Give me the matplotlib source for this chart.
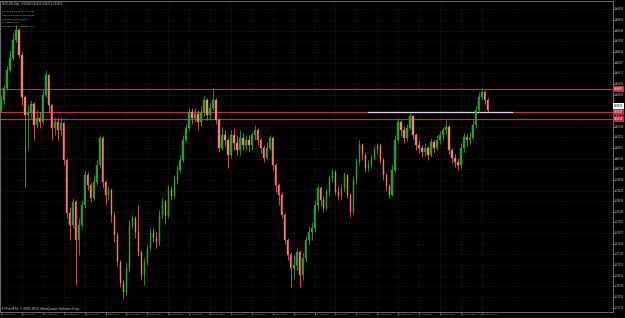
import numpy as np
import matplotlib
matplotlib.use("Agg")
import matplotlib.pyplot as plt
from matplotlib.transforms import blended_transform_factory

# ---------------- data (NZDUSD daily) ----------------
first_open = 0.83650
closes = [
    0.84200, 0.84860, 0.85850, 0.86510, 0.87500, 0.88050, 0.86675, 0.84365, 0.83375, 0.83540,
    0.83980, 0.82825, 0.83210, 0.82990, 0.84475, 0.85575, 0.83925, 0.82660, 0.82990, 0.82550,
    0.82935, 0.80900, 0.77985, 0.77325, 0.78590, 0.76500, 0.77325, 0.78425, 0.80075, 0.79525,
    0.78810, 0.79690, 0.80625, 0.82110, 0.79690, 0.78975, 0.79250, 0.77875, 0.76775, 0.75290,
    0.74135, 0.73640, 0.74960, 0.77325, 0.77710, 0.76940, 0.75840, 0.74575, 0.75290, 0.76060,
    0.76885, 0.76610, 0.76390, 0.77875, 0.78590, 0.77820, 0.79250, 0.78920, 0.79800, 0.80350,
    0.80900, 0.82000, 0.82660, 0.83540, 0.83210, 0.83430, 0.82990, 0.83540, 0.84200, 0.83375,
    0.83760, 0.84200, 0.83100, 0.81560, 0.82275, 0.82000, 0.81175, 0.82275, 0.81835, 0.81450,
    0.82110, 0.81725, 0.82000, 0.81725, 0.82275, 0.82550, 0.82000, 0.81560, 0.81010, 0.81560,
    0.82110, 0.80625, 0.79525, 0.78975, 0.77875, 0.76500, 0.75675, 0.74960, 0.75125, 0.75840,
    0.74575, 0.75510, 0.76500, 0.76940, 0.77160, 0.78425, 0.79360, 0.78700, 0.78260, 0.79140,
    0.79910, 0.80240, 0.79140, 0.78920, 0.79360, 0.80075, 0.78975, 0.78040, 0.79800, 0.80790,
    0.81725, 0.81175, 0.80460, 0.80625, 0.81010, 0.81450, 0.81725, 0.80900, 0.80075, 0.79470,
    0.78975, 0.80350, 0.82000, 0.82990, 0.82550, 0.82110, 0.82660, 0.83320, 0.82275, 0.81725,
    0.81560, 0.81340, 0.81560, 0.81175, 0.81890, 0.81560, 0.82000, 0.82275, 0.82550, 0.82715,
    0.81450, 0.81010, 0.80790, 0.80625, 0.81560, 0.82165, 0.82000, 0.82110, 0.82825, 0.83650,
    0.84365, 0.84640, 0.84200, 0.83650,
]
highs = [
    0.84475, 0.85025, 0.86070, 0.86950, 0.87885, 0.88325, 0.88160, 0.86840, 0.84475, 0.83925,
    0.84200, 0.84090, 0.83650, 0.83540, 0.84750, 0.85850, 0.85630, 0.83980, 0.83265, 0.83210,
    0.83265, 0.82990, 0.81010, 0.78315, 0.78810, 0.78700, 0.77710, 0.78700, 0.80350, 0.80240,
    0.79635, 0.80075, 0.80900, 0.82275, 0.82220, 0.79800, 0.79470, 0.79360, 0.78040, 0.76940,
    0.75400, 0.74300, 0.75290, 0.77600, 0.77875, 0.77820, 0.78425, 0.75950, 0.75510, 0.76225,
    0.77160, 0.77160, 0.76940, 0.78150, 0.78810, 0.78700, 0.79525, 0.79470, 0.80075, 0.80625,
    0.81175, 0.82275, 0.82880, 0.83760, 0.83760, 0.83760, 0.83650, 0.83870, 0.84420, 0.84310,
    0.84090, 0.84860, 0.84310, 0.83210, 0.82715, 0.82550, 0.82110, 0.82550, 0.82660, 0.82275,
    0.82550, 0.82385, 0.82275, 0.82275, 0.82440, 0.82825, 0.82660, 0.82110, 0.81725, 0.81890,
    0.82275, 0.82220, 0.80735, 0.79635, 0.79140, 0.77985, 0.76610, 0.75840, 0.75675, 0.76060,
    0.75950, 0.75785, 0.76720, 0.77270, 0.77490, 0.78700, 0.79525, 0.79470, 0.78920, 0.79360,
    0.80075, 0.80460, 0.80350, 0.79470, 0.79580, 0.80240, 0.80130, 0.79085, 0.80020, 0.81010,
    0.82000, 0.81835, 0.81285, 0.80900, 0.81230, 0.81615, 0.81835, 0.81780, 0.81010, 0.80185,
    0.79580, 0.80625, 0.82275, 0.83210, 0.83100, 0.82770, 0.82880, 0.83485, 0.83375, 0.82385,
    0.82000, 0.81725, 0.81835, 0.81670, 0.82110, 0.82055, 0.82275, 0.82495, 0.82715, 0.83100,
    0.82825, 0.81560, 0.81230, 0.81010, 0.81835, 0.82385, 0.82330, 0.82440, 0.83100, 0.83925,
    0.84640, 0.84860, 0.84750, 0.84310,
]
lows = [
    0.83540, 0.83980, 0.84750, 0.85740, 0.86400, 0.87390, 0.86510, 0.83925, 0.79415, 0.81450,
    0.83210, 0.82000, 0.82660, 0.82660, 0.82880, 0.84365, 0.83540, 0.82000, 0.82275, 0.82000,
    0.82275, 0.80625, 0.77710, 0.76500, 0.77160, 0.74025, 0.75675, 0.77160, 0.78260, 0.79250,
    0.78590, 0.78700, 0.79525, 0.80460, 0.79360, 0.78425, 0.78700, 0.77490, 0.76390, 0.75070,
    0.73915, 0.73310, 0.73475, 0.74740, 0.77160, 0.76610, 0.75620, 0.74300, 0.74025, 0.75125,
    0.75950, 0.76390, 0.76060, 0.76225, 0.77710, 0.77380, 0.77710, 0.78700, 0.78810, 0.79580,
    0.80240, 0.80790, 0.81890, 0.82550, 0.82880, 0.82990, 0.82550, 0.82770, 0.83320, 0.83100,
    0.83100, 0.83650, 0.82880, 0.81340, 0.81450, 0.81670, 0.80460, 0.81010, 0.81450, 0.81175,
    0.81175, 0.81450, 0.81450, 0.81340, 0.81450, 0.82000, 0.81725, 0.81285, 0.80790, 0.80900,
    0.81450, 0.80350, 0.79140, 0.78425, 0.77710, 0.76280, 0.75400, 0.73915, 0.74410, 0.74850,
    0.73915, 0.74300, 0.75290, 0.76225, 0.76500, 0.76940, 0.78150, 0.78370, 0.78040, 0.78150,
    0.78920, 0.79690, 0.78975, 0.78700, 0.78700, 0.79140, 0.78810, 0.77765, 0.77930, 0.79580,
    0.80625, 0.80900, 0.80240, 0.80295, 0.80460, 0.80900, 0.81230, 0.80680, 0.79800, 0.79250,
    0.78810, 0.78920, 0.80240, 0.81890, 0.82220, 0.81835, 0.81945, 0.82550, 0.82055, 0.81450,
    0.81285, 0.81065, 0.81120, 0.80900, 0.81065, 0.81285, 0.81450, 0.81780, 0.82000, 0.82330,
    0.81230, 0.80735, 0.80515, 0.80350, 0.80460, 0.81340, 0.81670, 0.81780, 0.82000, 0.82660,
    0.83540, 0.84200, 0.83980, 0.83540,
]
date_labels = [
    "14 Jul 2011", "5 Aug 2011", "29 Aug 2011", "20 Sep 2011", "12 Oct 2011", "3 Nov 2011",
    "25 Nov 2011", "19 Dec 2011", "10 Jan 2012", "1 Feb 2012", "23 Feb 2012", "16 Mar 2012",
    "9 Apr 2012", "1 May 2012", "23 May 2012", "14 Jun 2012", "6 Jul 2012", "30 Jul 2012",
    "21 Aug 2012", "12 Sep 2012", "4 Oct 2012", "26 Oct 2012", "19 Nov 2012", "11 Dec 2012",
]
bars_per_label = 7
price_tick_top = 0.89189
price_tick_step = 0.005863
level_prices = [0.84805, 0.83540, 0.83139]
trend_price = 0.83540
trend_start = 123
trend_end = 171
bid_label_price = 0.83890
header = "NZDUSD,Daily  0.84126 0.84221 0.83471 0.83623"
info_lines = [
    "Pip value per One lot: 1.00 USD",
    "Time for new bar: 18 min 33 sec",
    "NZDUSD Spread: 30 pips",
    "Leverage: 1:500",
    "BuySwap: 4.80   SellSwap: -6.19",
]
footer = "FxPro MT4, \u00a9 2001-2012, MetaQuotes Software Corp."

# ---------------- styling ----------------
W, H = 625, 318
BG = "black"
UP_WICK, UP_BODY = "#2fb02f", "#259d25"
DN_WICK, DN_BODY = "#ff6262", "#e8946c"
LEVEL = "#be2f45"
TREND = "#e6cfe9"
GRID = "#2e2e2e"
FRAME = "#7c7c7c"
TXT = "#c8c8c8"
FONT = ["Liberation Sans", "DejaVu Sans"]
plt.rcParams["font.family"] = FONT

px_per_bar = 2.986
fig = plt.figure(figsize=(W / 100, H / 100), dpi=100, facecolor=BG)
ax = fig.add_axes([0, 6 / H, 612.5 / W, 311 / H])
ax.set_facecolor(BG)

n = len(closes)
idx = np.arange(n)
c = np.array(closes)
o = np.array([first_open] + closes[:-1])
hi = np.maximum(np.array(highs), np.maximum(o, c))
lo = np.minimum(np.array(lows), np.minimum(o, c))
up = c >= o

ax.set_xlim(-1 / px_per_bar, (612.5 - 1) / px_per_bar)
ax.set_ylim(0.72540, 0.89645)

# grid
date_ticks = np.arange(len(date_labels)) * bars_per_label
price_ticks = price_tick_top - price_tick_step * np.arange(29)
ax.set_xticks(date_ticks)
ax.set_yticks(price_ticks)
ax.grid(True, color=GRID, linestyle=(0, (1, 2)), linewidth=0.5)
ax.set_axisbelow(True)
ax.tick_params(axis="x", length=2, width=0.5, color=FRAME, labelbottom=False)
ax.tick_params(axis="y", left=False, right=True, length=2, width=0.5, color=FRAME,
               labelleft=False, labelright=False)
for s in ax.spines.values():
    s.set_color(FRAME)
    s.set_linewidth(0.6)

# horizontal levels and trend segment
for p in level_prices:
    ax.axhline(p, color=LEVEL, lw=0.9, zorder=2)
ax.plot([trend_start, trend_end], [trend_price, trend_price], color=TREND, lw=0.9, zorder=2.5)

# candles
wick_cols = np.where(up, UP_WICK, DN_WICK)
body_cols = np.where(up, UP_BODY, DN_BODY)
ax.vlines(idx, lo, hi, colors=wick_cols, linewidth=0.55, zorder=3)
ax.bar(idx, c - o, bottom=o, width=0.45, color=body_cols, edgecolor=wick_cols,
       linewidth=0.3, zorder=4)

# price labels on the right
tr_r = blended_transform_factory(ax.transAxes, ax.transData)
for p in price_ticks:
    if ax.get_ylim()[0] < p < ax.get_ylim()[1]:
        ax.text(1.004, p, f"{p:.5f}", transform=tr_r, fontsize=1.8, color=TXT,
                ha="left", va="center", clip_on=False)
for p in level_prices:
    ax.text(1.002, p, f"{p:.5f}", transform=tr_r, fontsize=1.8, color="white",
            ha="left", va="center", clip_on=False, zorder=6,
            bbox=dict(boxstyle="square,pad=0.45", fc=LEVEL, ec="none"))
ax.text(1.002, bid_label_price, f"{closes[-1]:.5f}", transform=tr_r, fontsize=1.8,
        color="black", ha="left", va="center", clip_on=False, zorder=7,
        bbox=dict(boxstyle="square,pad=0.45", fc="white", ec="none"))

# date labels
tr_b = blended_transform_factory(ax.transData, ax.transAxes)
for t, lab in zip(date_ticks, date_labels):
    ax.text(t + 0.3, -0.0085, lab, transform=tr_b, fontsize=1.75, color=TXT,
            ha="left", va="center", clip_on=False)

# texts
fig.text(2 / W, 1 - 3.5 / H, header, fontsize=1.9, color=TXT, ha="left", va="center")
for k, line in enumerate(info_lines):
    fig.text(2 / W, 1 - (11.5 + 3.8 * k) / H, line, fontsize=1.6, color=TXT,
             ha="left", va="center")
fig.text(2 / W, 1 - 309 / H, footer, fontsize=2.3, color=TXT, ha="left", va="center")

fig.savefig("out.png", dpi=100, facecolor=BG)
